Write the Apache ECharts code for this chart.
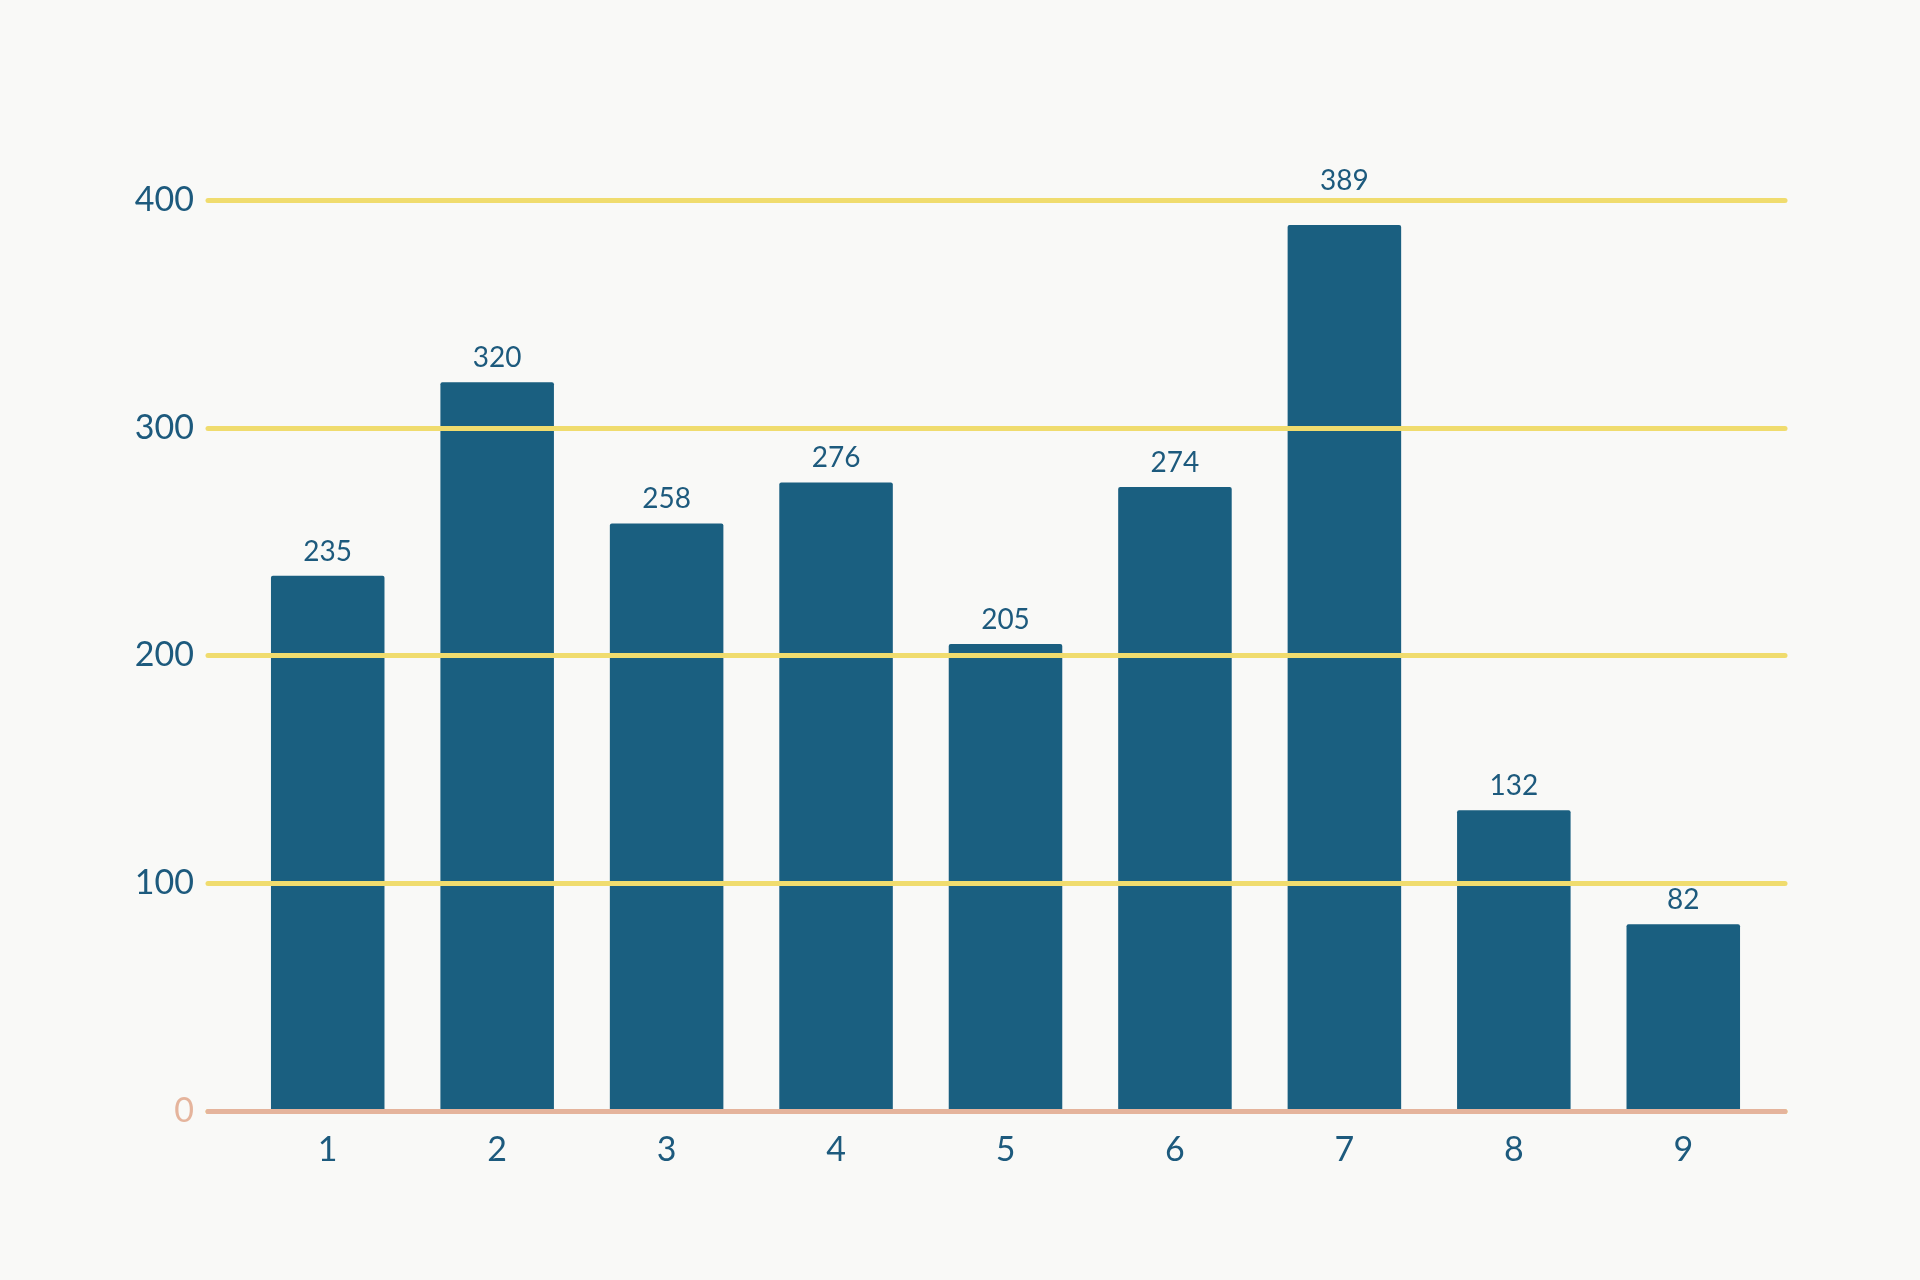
<!DOCTYPE html>
<html>
<head>
<meta charset="utf-8">
<script src="https://cdn.jsdelivr.net/npm/echarts@6/dist/echarts.min.js"></script>
<style>
html,body{margin:0;padding:0;background:#f9f9f7;}
#c{width:1920px;height:1280px;}
</style>
</head>
<body>
<div id="c"></div>
<script>
var categories = ['1','2','3','4','5','6','7','8','9'];
var values = [235, 320, 258, 276, 205, 274, 389, 132, 82];
var yTicks = [0, 100, 200, 300, 400];

var chart = echarts.init(document.getElementById('c'));
var fontFam = 'Lato, "Open Sans", sans-serif';
var barData = values.map(function (v) {
  // lift labels that would sit on the top grid line
  return v > 380 && v <= 400 ? {value: v, label: {distance: 30}} : v;
});
chart.setOption({
  backgroundColor: '#f9f9f7',
  grid: [
    {left: 243, right: 152, top: 200, bottom: 169},
    {left: 208, right: 135, top: 200, bottom: 169}
  ],
  xAxis: [
    {
      type: 'category', gridIndex: 0, data: categories,
      axisLine: {show: false}, axisTick: {show: false},
      axisLabel: {color: '#1d5a7d', fontSize: 34, margin: 22, fontFamily: fontFam}
    },
    {
      type: 'value', gridIndex: 1, min: 0, max: 1,
      axisLine: {show: true, onZero: false, lineStyle: {color: '#e5b49c', width: 5, cap: 'round'}},
      axisTick: {show: false}, axisLabel: {show: false}, splitLine: {show: false},
      z: 10
    }
  ],
  yAxis: [
    {
      type: 'value', gridIndex: 0, min: 0, max: 400, interval: 100,
      axisLine: {show: false}, axisTick: {show: false}, axisLabel: {show: false},
      splitLine: {show: false}
    },
    {
      type: 'value', gridIndex: 1, min: 0, max: 400, interval: 100,
      axisLine: {show: false}, axisTick: {show: false},
      axisLabel: {
        margin: 14, fontSize: 34, fontFamily: fontFam,
        formatter: function (v) { return yTicks.indexOf(v) >= 0 ? String(v) : ''; },
        color: function (v) { return Number(v) === 0 ? '#e5b49c' : '#1d5a7d'; }
      },
      splitLine: {show: true, lineStyle: {color: '#f0dc6e', width: 5, cap: 'round'}},
      z: 10
    }
  ],
  series: [{
    type: 'bar', xAxisIndex: 0, yAxisIndex: 0, data: barData,
    barCategoryGap: '33%',
    itemStyle: {color: '#1a5f80', borderRadius: 2},
    label: {show: true, position: 'top', distance: 10, color: '#1d5a7d', fontSize: 28, fontFamily: fontFam},
    z: 2
  }]
});
</script>
</body>
</html>
